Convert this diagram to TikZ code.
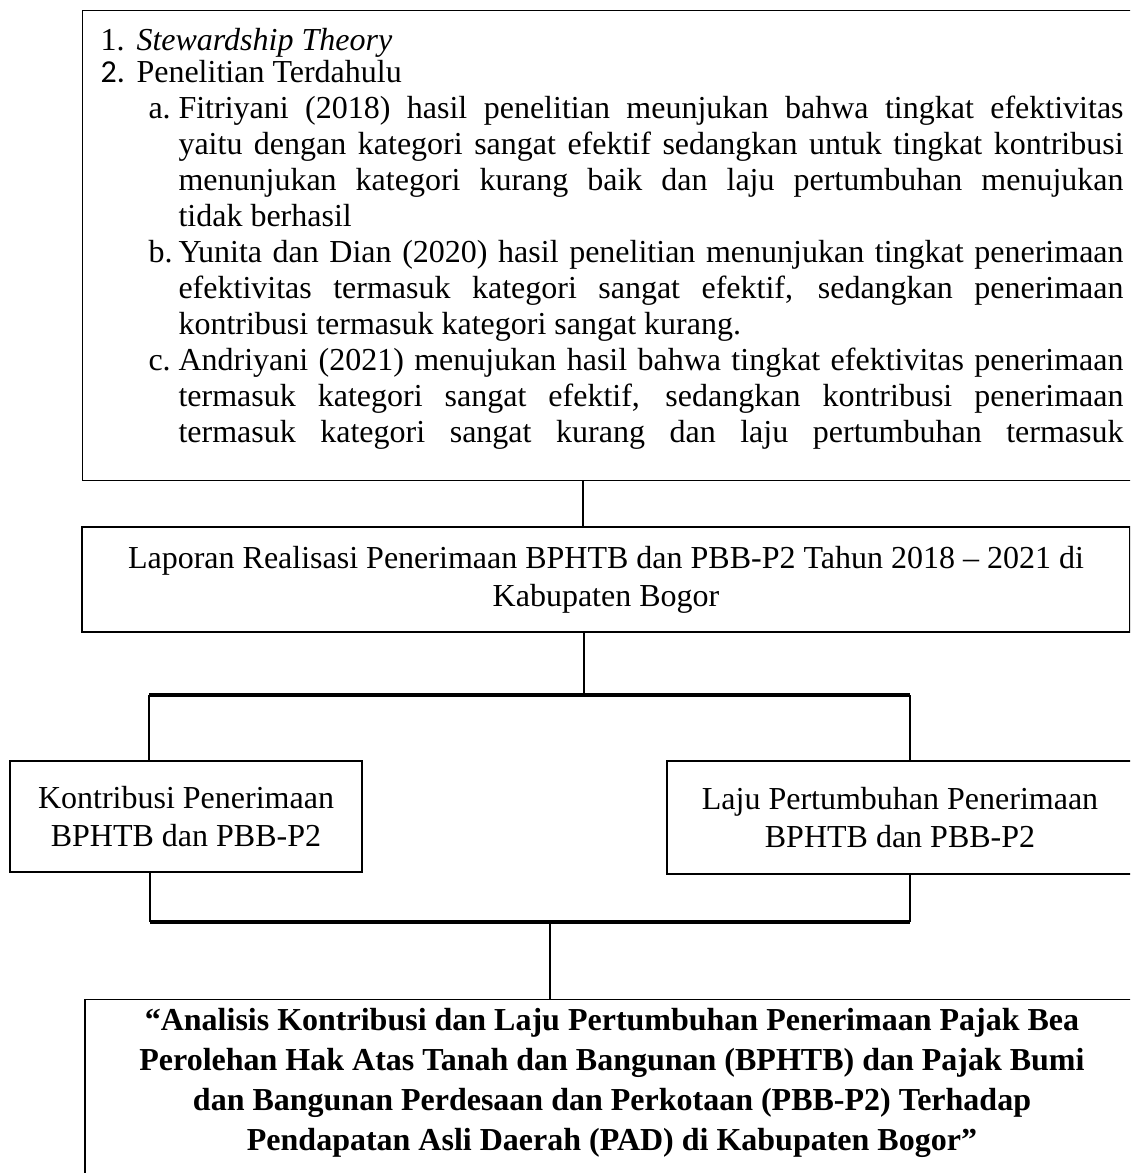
\documentclass[tikz,border=0pt]{standalone}
\usepackage{fontspec}
\setmainfont{Liberation Serif}
\newfontfamily\calibri{Carlito}
\usepackage{tikz}
\usetikzlibrary{positioning}
\newlength{\px}
\setlength{\px}{0.375pt}

\begin{document}
\begin{tikzpicture}[x=0.375pt, y=-0.375pt,
    kotak/.style={draw, line width=0.5pt, inner sep=0pt, align=center, font=\fontsize{12}{14.25}\selectfont},
    garis/.style={line width=0.9pt},
    bus/.style={line width=1.3pt}]
        \useasboundingbox (0,0) rectangle (1130,1173);
        \clip (0,0) rectangle (1130,1173);

        % kerangka teori
        \node[kotak, anchor=north west, minimum width=1070\px, minimum height=470\px] (teori) at (82,10) {};
        \node[anchor=base west, inner sep=0pt, text width=1023\px, align=justify, font=\fontsize{12}{13.5}\selectfont] (isi) at (100,51) {%
            \tolerance=10000\hyphenpenalty=10000
            \makebox[36\px][l]{1.}\textit{Stewardship Theory}\par\vskip-4\px
            \makebox[36\px][l]{\calibri 2.}Penelitian Terdahulu\par
            \hangindent=78\px\hangafter=1\hspace*{48\px}\makebox[30\px][l]{a.}Fitriyani (2018) hasil penelitian meunjukan bahwa tingkat efektivitas\linebreak
            yaitu dengan kategori sangat efektif sedangkan untuk tingkat kontribusi\linebreak
            menunjukan kategori kurang baik dan laju pertumbuhan menujukan\linebreak
            tidak berhasil\par
            \hangindent=78\px\hangafter=1\hspace*{48\px}\makebox[30\px][l]{b.}Yunita dan Dian (2020) hasil penelitian menunjukan tingkat penerimaan\linebreak
            efektivitas termasuk kategori sangat efektif, sedangkan penerimaan\linebreak
            kontribusi termasuk kategori sangat kurang.\par
            \hangindent=78\px\hangafter=1\hspace*{48\px}\makebox[30\px][l]{c.}Andriyani (2021) menujukan hasil bahwa tingkat efektivitas penerimaan\linebreak
            termasuk kategori sangat efektif, sedangkan kontribusi penerimaan\linebreak
            termasuk kategori sangat kurang dan laju pertumbuhan termasuk{\parfillskip=0pt\par}};

        \node[kotak, minimum width=1048\px, minimum height=105\px] (laporan) at (606,579.5) {Laporan Realisasi Penerimaan BPHTB dan PBB-P2 Tahun 2018 -- 2021 di\\Kabupaten Bogor};

        \node[kotak, minimum width=352\px, minimum height=111\px] (kontribusi) at (186,816.5) {Kontribusi Penerimaan\\BPHTB dan PBB-P2};
        \node[kotak, minimum width=466\px, minimum height=113\px] (laju) at (900,817.5) {Laju Pertumbuhan Penerimaan\\BPHTB dan PBB-P2};

        \node[kotak, anchor=north, minimum width=1054\px, minimum height=200\px] (judul) at (612,999) {};
        \node[anchor=north, inner sep=0pt, align=center, font=\bfseries\fontsize{12}{15}\selectfont] (judulteks) at (612,1008) {“Analisis Kontribusi dan Laju Pertumbuhan Penerimaan Pajak Bea\\Perolehan Hak Atas Tanah dan Bangunan (BPHTB) dan Pajak Bumi\\dan Bangunan Perdesaan dan Perkotaan (PBB-P2) Terhadap\\Pendapatan Asli Daerah (PAD) di Kabupaten Bogor”};

        % garis penghubung
        \coordinate (atas) at (583,500);
        \coordinate (cabang) at (584,695);
        \coordinate (kiri) at (149,695);
        \coordinate (kanan) at (910,695);
        \coordinate (kiri2) at (150,922);
        \coordinate (kanan2) at (910,922);
        \coordinate (tengah) at (550,922);

        \draw[garis] (teori.south -| atas) -- (laporan.north -| atas);
        \draw[garis] (laporan.south -| cabang) -- (cabang);
        \draw[bus] (kiri) -- (kanan);
        \draw[garis] (kiri) -- (kontribusi.north -| kiri);
        \draw[garis] (kanan) -- (laju.north -| kanan);
        \draw[garis] (kontribusi.south -| kiri2) -- (kiri2);
        \draw[garis] (laju.south -| kanan2) -- (kanan2);
        \draw[bus] (kiri2) -- (kanan2);
        \draw[garis] (tengah) -- (judul.north -| tengah);
    \end{tikzpicture}
\end{document}
